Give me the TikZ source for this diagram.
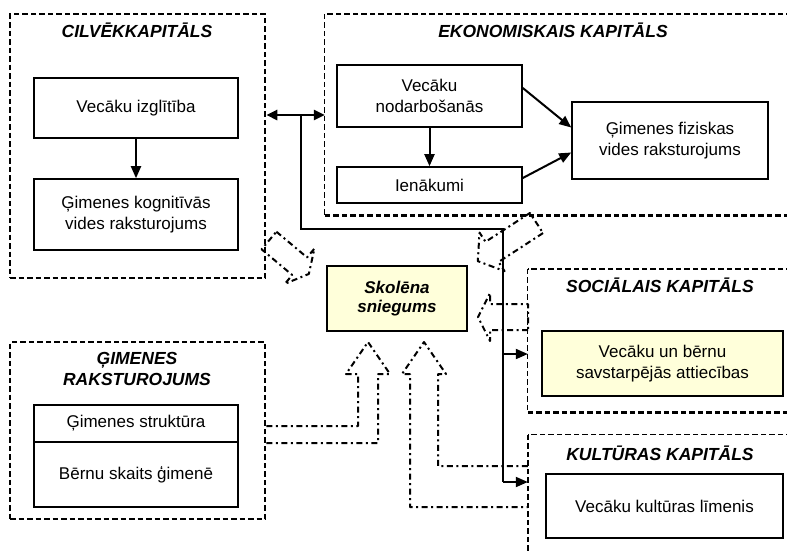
\documentclass[tikz,border=0pt]{standalone}
\usepackage{fontspec}
\setmainfont{Liberation Sans}
\usepackage{tikz}
\usetikzlibrary{calc}
\usetikzlibrary{arrows.meta}

\definecolor{paleyellow}{RGB}{255,255,218}

\tikzset{
  box/.style={draw, line width=1.6pt, inner sep=0pt, align=center, font=\fontsize{17}{20.5}\selectfont},
  region/.style={inner sep=0pt},
  heavydash/.style={line width=2.6pt, dash pattern=on 5.5pt off 3pt},
  lightdash/.style={line width=1pt, dash pattern=on 5.5pt off 3pt},
  blockline/.style={line width=2pt, dash pattern=on 6pt off 3.5pt on 2pt off 3.5pt, line join=round},
  title/.style={font=\fontsize{17.5}{21}\selectfont\bfseries\itshape, align=center},
  link/.style={line width=2pt, -{Triangle[length=12pt,width=10pt]}}
}

% block arrow: start, angle, length, shaft half width, head half width, head length
\newcommand{\blockarrow}[6]{%
  \begin{scope}[shift={#1},rotate=#2]
    \draw[blockline] (0,-#4) -- ({#3-#6},-#4) -- ({#3-#6},-#5) -- (#3,0)
      -- ({#3-#6},#5) -- ({#3-#6},#4) -- (0,#4) -- cycle;
  \end{scope}}

\begin{document}
\begin{tikzpicture}[x=1pt,y=-1pt]
  % Boundary
  \path[use as bounding box] (0,0) rectangle (787,550);
  % Regions
  \node[region, draw, heavydash, minimum width=255pt, minimum height=264pt] (cilvek) at (137.5,146) {};
  \node[region, draw, heavydash, minimum width=255pt, minimum height=177pt] (gimr) at (137.5,430.5) {};
  \node[region, minimum width=475pt, minimum height=201pt] (ekon) at (562.5,114.5) {};
  \node[region, minimum width=272pt, minimum height=143pt] (soc) at (664,340.5) {};
  \node[region, minimum width=272pt, minimum height=135pt] (kult) at (664,502.5) {};
  \draw[heavydash] (ekon.north east) -- (ekon.north west);
  \draw[lightdash] (ekon.north west) -- (ekon.south west);
  \draw[heavydash] (ekon.south west) -- (ekon.south east);
  \draw[heavydash] (soc.north east) -- (soc.north west);
  \draw[lightdash] (soc.north west) -- (soc.south west);
  \draw[heavydash] (soc.south west) -- (soc.south east);
  \draw[lightdash] (kult.north east) -- (kult.north west);
  \draw[heavydash] (kult.north west) -- (kult.south west);
  % Titles
  \node[title] (cilvektitle) at (137,30) {CILVĒKKAPITĀLS};
  \node[title] (ekontitle) at (553,30) {EKONOMISKAIS KAPITĀLS};
  \node[title] (soctitle) at (660,285) {SOCIĀLAIS KAPITĀLS};
  \node[title] (kulttitle) at (660,453) {KULTŪRAS KAPITĀLS};
  \node[title] (gimrtitle) at (137,369) {ĢIMENES\\RAKSTUROJUMS};
  % Boxes
  \node[box, minimum width=204pt, minimum height=60pt] (izgl) at (136,108) {Vecāku izglītība};
  \node[box, minimum width=204pt, minimum height=71pt] (kogn) at (136,214.5) {Ģimenes kognitīvās\\vides raksturojums};
  \node[box, minimum width=185pt, minimum height=62pt] (nodarb) at (429.5,96) {Vecāku\\nodarbošanās};
  \node[box, minimum width=185pt, minimum height=36pt] (ienak) at (429.5,185) {Ienākumi};
  \node[box, minimum width=196pt, minimum height=77pt] (fiz) at (670,140.5) {Ģimenes fiziskas\\vides raksturojums};
  \node[box, fill=paleyellow, minimum width=140pt, minimum height=65pt, font=\fontsize{17}{19.5}\selectfont\bfseries\itshape] (skol) at (397,298.5) {Skolēna\\sniegums};
  \node[box, fill=paleyellow, minimum width=241pt, minimum height=65pt] (attiec) at (662.5,363.5) {Vecāku un bērnu\\savstarpējās attiecības};
  \node[box, minimum width=237pt, minimum height=64pt] (kultlim) at (664.5,506) {Vecāku kultūras līmenis};
  \node[box, minimum width=204pt, minimum height=37pt] (strukt) at (136,423.5) {Ģimenes struktūra};
  \node[box, minimum width=204pt, minimum height=65pt] (berni) at (136,474.5) {Bērnu skaits ģimenē};
  % Links
  \draw[link] (izgl) -- (kogn);
  \draw[link] (nodarb) -- (ienak);
  \draw[link] ([yshift=8pt]nodarb.east) -- ([yshift=13pt]fiz.west);
  \draw[link] ([yshift=7pt]ienak.east) -- ([yshift=-12pt]fiz.west);
  % Capital links
  \coordinate (split) at (301,115);
  \coordinate (corner) at (503,229);
  \coordinate (tosoc) at (503,354);
  \coordinate (tokult) at (503,482);
  \draw[line width=2.6pt, {Triangle[length=11pt,width=10pt]}-{Triangle[length=11pt,width=10pt]}] (cilvek.east |- split) -- (ekon.west |- split);
  \draw[line width=1.3pt] (split) |- (corner) -- (tokult);
  \draw[link] (tosoc) -- (soc.west |- tosoc);
  \draw[link] (tokult) -- (kult.west |- tokult);
  % Block arrows
  \blockarrow{(269,240.5)}{-40}{52}{11.5}{23}{12}
  \blockarrow{(536.5,223)}{213}{70}{12}{23}{17}
  \blockarrow{(528,317)}{180}{50}{13}{24}{12}
  \draw[blockline] (gimr.east |- 0,426) -- (358,426) -- (358,374) -- (346,374) -- (368,342)
    -- (390,374) -- (378,374) -- (378,443) -- (gimr.east |- 0,443);
  \draw[blockline] (kult.west |- 0,466) -- (438,466) -- (438,374) -- (446,374) -- (424,342)
    -- (402,374) -- (410,374) -- (410,507) -- (kult.west |- 0,507);
\end{tikzpicture}
\end{document}
